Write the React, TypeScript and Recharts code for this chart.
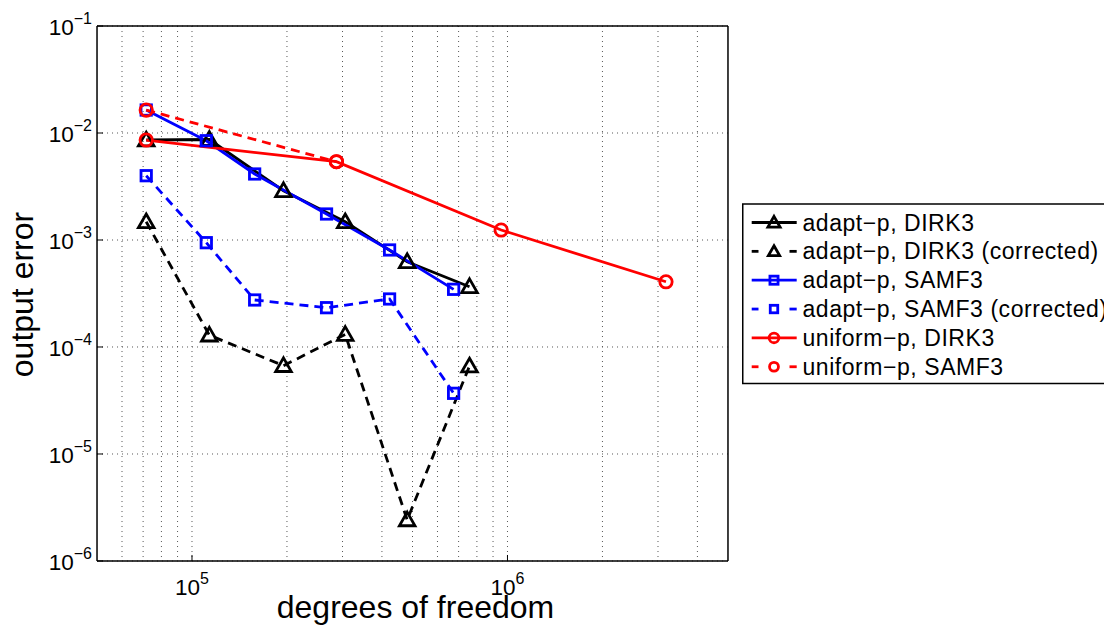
import React from 'react';
import { LineChart, Line, XAxis, YAxis, CartesianGrid, Legend } from 'recharts';

// ---------------- data ----------------
const seriesNames = [
  'adapt\u2212p, DIRK3',
  'adapt\u2212p, DIRK3 (corrected)',
  'adapt\u2212p, SAMF3',
  'adapt\u2212p, SAMF3 (corrected)',
  'uniform\u2212p, DIRK3',
  'uniform\u2212p, SAMF3',
];

const adaptDirkDof = [71600, 113500, 195000, 306000, 481000, 758000];
const adaptDirkErr = [8.6e-3, 8.7e-3, 2.89e-3, 1.48e-3, 6.27e-4, 3.66e-4];
const adaptDirkCorrErr = [1.48e-3, 1.29e-4, 6.69e-5, 1.31e-4, 2.42e-6, 6.64e-5];

const adaptSamfDof = [71600, 111000, 158000, 267000, 423000, 675000];
const adaptSamfErr = [1.64e-2, 8.47e-3, 4.14e-3, 1.75e-3, 8.07e-4, 3.46e-4];
const adaptSamfCorrErr = [3.99e-3, 9.44e-4, 2.75e-4, 2.33e-4, 2.81e-4, 3.69e-5];

const uniformDirkDof = [71600, 287000, 955000, 3180000];
const uniformDirkErr = [8.6e-3, 5.39e-3, 1.24e-3, 4.07e-4];

const uniformSamfDof = [71600, 287000];
const uniformSamfErr = [1.64e-2, 5.39e-3];

const xDomain = [5e4, 5e6];
const yDomain = [1e-6, 1e-1];
const xMajorTicks = [1e5, 1e6];
const xMinorTicks = [6e4, 7e4, 8e4, 9e4, 2e5, 3e5, 4e5, 5e5, 6e5, 7e5, 8e5, 9e5, 2e6, 3e6, 4e6];
const xGridValues = [6e4, 7e4, 8e4, 9e4, 1e5, 2e5, 3e5, 4e5, 5e5, 6e5, 7e5, 8e5, 9e5, 1e6, 2e6, 3e6, 4e6];
const yMajorTicks = [1e-6, 1e-5, 1e-4, 1e-3, 1e-2, 1e-1];
const yMinorTicks = [
  2e-6, 3e-6, 4e-6, 5e-6, 6e-6, 7e-6, 8e-6, 9e-6,
  2e-5, 3e-5, 4e-5, 5e-5, 6e-5, 7e-5, 8e-5, 9e-5,
  2e-4, 3e-4, 4e-4, 5e-4, 6e-4, 7e-4, 8e-4, 9e-4,
  2e-3, 3e-3, 4e-3, 5e-3, 6e-3, 7e-3, 8e-3, 9e-3,
  2e-2, 3e-2, 4e-2, 5e-2, 6e-2, 7e-2, 8e-2, 9e-2,
];
const xLabel = 'degrees of freedom';
const yLabel = 'output error';

// ---------------- styling ----------------
const W = 1104;
const H = 633;
const FONT = "'Liberation Sans', Arial, Helvetica, sans-serif";
const THIN = 0.01; // axis thickness (must be > 0 for recharts to draw the axis)

const zip = (xs: number[], ys: number[]) => xs.map((x, i) => ({ x, y: ys[i] }));

type Kind = 'tri' | 'sq' | 'circ';
const series: { name: string; data: { x: number; y: number }[]; color: string; dashed: boolean; marker: Kind }[] = [
  { name: seriesNames[0], data: zip(adaptDirkDof, adaptDirkErr), color: '#000000', dashed: false, marker: 'tri' },
  { name: seriesNames[1], data: zip(adaptDirkDof, adaptDirkCorrErr), color: '#000000', dashed: true, marker: 'tri' },
  { name: seriesNames[2], data: zip(adaptSamfDof, adaptSamfErr), color: '#0000ff', dashed: false, marker: 'sq' },
  { name: seriesNames[3], data: zip(adaptSamfDof, adaptSamfCorrErr), color: '#0000ff', dashed: true, marker: 'sq' },
  { name: seriesNames[4], data: zip(uniformDirkDof, uniformDirkErr), color: '#ff0000', dashed: false, marker: 'circ' },
  { name: seriesNames[5], data: zip(uniformSamfDof, uniformSamfErr), color: '#ff0000', dashed: true, marker: 'circ' },
];

const Marker = ({ kind, cx, cy, color, s = 1, sw = 2.8 }: { kind: Kind; cx: number; cy: number; color: string; s?: number; sw?: number }) => {
  const common = { fill: 'none', stroke: color, strokeWidth: sw, strokeDasharray: 'none' } as any;
  if (kind === 'tri') {
    const h = 7.8 * s;
    return <path d={`M${cx},${cy - h}L${cx + h},${cy + 0.75 * h}L${cx - h},${cy + 0.75 * h}Z`} {...common} strokeLinejoin="miter" />;
  }
  if (kind === 'sq') {
    const a = 5.2 * s;
    return <rect x={cx - a} y={cy - a} width={2 * a} height={2 * a} {...common} />;
  }
  return <circle cx={cx} cy={cy} r={6.2 * s} {...common} />;
};

const fmtExp = (v: number) => {
  const e = Math.round(Math.log10(v));
  return e < 0 ? `\u2212${-e}` : `${e}`;
};

const XTick = (props: any) => {
  const { x, y, payload } = props;
  return (
    <text x={x} y={y} textAnchor="middle" fontFamily={FONT} fontSize={22.5} fill="#000">
      <tspan>10</tspan>
      <tspan dy={-11} fontSize={16}>{fmtExp(payload.value)}</tspan>
    </text>
  );
};

const YTick = (props: any) => {
  const { x, y, payload } = props;
  return (
    <text x={x} y={y + 9} textAnchor="end" fontFamily={FONT} fontSize={22.5} fill="#000">
      <tspan>10</tspan>
      <tspan dy={-11} fontSize={16}>{fmtExp(payload.value)}</tspan>
    </text>
  );
};

const XAxisLabel = (props: any) => {
  const vb = props.viewBox || { x: 97, y: 561, width: 631, height: 0 };
  return (
    <text x={vb.x + vb.width / 2 + 3} y={vb.y + 57} textAnchor="middle" fontFamily={FONT} fontSize={32} fill="#000">
      {xLabel}
    </text>
  );
};

const YAxisLabel = (props: any) => {
  const vb = props.viewBox || { x: 97, y: 26, width: 0, height: 535 };
  const cx = vb.x + vb.width - 64;
  const cy = vb.y + vb.height / 2 + 1;
  return (
    <text x={cx} y={cy} transform={`rotate(-90 ${cx} ${cy})`} textAnchor="middle" fontFamily={FONT} fontSize={32} fill="#000">
      {yLabel}
    </text>
  );
};

const LegendBox = () => {
  const rowY = (i: number) => 19.5 + i * 28.85;
  return (
    <svg width={380} height={184} style={{ display: 'block', overflow: 'visible' }}>
      <rect x={0.75} y={1} width={420} height={179.5} fill="#fff" stroke="#000" strokeWidth={1.5} />
      {series.map((s, i) => {
        const y = rowY(i);
        return (
          <g key={s.name}>
            {s.dashed ? (
              <>
                <line x1={9.7} x2={16.5} y1={y} y2={y} stroke={s.color} strokeWidth={2.8} />
                <line x1={47.5} x2={54.7} y1={y} y2={y} stroke={s.color} strokeWidth={2.8} />
              </>
            ) : (
              <line x1={9.7} x2={54.7} y1={y} y2={y} stroke={s.color} strokeWidth={2.8} />
            )}
            <Marker kind={s.marker} cx={32} cy={y} color={s.color} s={s.dashed ? 0.72 : 0.78} />
            <text x={60.5} y={y + 8} fontFamily={FONT} fontSize={23} letterSpacing={0.55} fill="#000">
              {s.name}
            </text>
          </g>
        );
      })}
    </svg>
  );
};

const logAxisCommon = { type: 'number' as const, scale: 'log' as const, allowDataOverflow: true, interval: 0 as const };
const tickLineStyle = { stroke: '#000', strokeWidth: 1 };
const axisLineStyle = { stroke: '#000', strokeWidth: 1.5 };

export default function App() {
  return (
    <div style={{ position: 'fixed', left: 0, top: 0, width: W, height: H, overflow: 'hidden', background: '#fff' }}>
      <LineChart width={W} height={H} margin={{ top: 26, right: 376, bottom: 72, left: 97 }}>
        <XAxis {...logAxisCommon} dataKey="x" domain={xDomain} ticks={xMajorTicks} orientation="bottom" height={THIN}
          tick={<XTick />} tickSize={-6} tickMargin={40} axisLine={axisLineStyle}
          tickLine={tickLineStyle} label={{ content: XAxisLabel } as any} />
        <XAxis xAxisId="xminb" {...logAxisCommon} dataKey="x" domain={xDomain} ticks={xMinorTicks} orientation="bottom" height={THIN}
          tick={false} tickSize={-3} axisLine={false} tickLine={tickLineStyle} />
        <XAxis xAxisId="xmajt" {...logAxisCommon} dataKey="x" domain={xDomain} ticks={xMajorTicks} orientation="top" height={THIN}
          tick={false} tickSize={-6} axisLine={axisLineStyle} tickLine={tickLineStyle} />
        <XAxis xAxisId="xmint" {...logAxisCommon} dataKey="x" domain={xDomain} ticks={xMinorTicks} orientation="top" height={THIN}
          tick={false} tickSize={-3} axisLine={false} tickLine={tickLineStyle} />

        <YAxis {...logAxisCommon} domain={yDomain} ticks={yMajorTicks} orientation="left" width={THIN}
          tick={<YTick />} tickSize={-6} tickMargin={11} axisLine={axisLineStyle}
          tickLine={tickLineStyle} label={{ content: YAxisLabel } as any} />
        <YAxis yAxisId="yminl" {...logAxisCommon} domain={yDomain} ticks={yMinorTicks} orientation="left" width={THIN}
          tick={false} tickSize={-3} axisLine={false} tickLine={tickLineStyle} />
        <YAxis yAxisId="ymajr" {...logAxisCommon} domain={yDomain} ticks={yMajorTicks} orientation="right" width={THIN}
          tick={false} tickSize={-6} axisLine={axisLineStyle} tickLine={tickLineStyle} />
        <YAxis yAxisId="yminr" {...logAxisCommon} domain={yDomain} ticks={yMinorTicks} orientation="right" width={THIN}
          tick={false} tickSize={-3} axisLine={false} tickLine={tickLineStyle} />

        <CartesianGrid horizontal={false} verticalValues={xGridValues} stroke="#555" strokeWidth={1} strokeDasharray="1 4" />
        <CartesianGrid vertical={false} horizontalValues={yMajorTicks} stroke="#555" strokeWidth={1} strokeDasharray="1 4" />

        {series.map((s, si) => (
          <Line
            key={s.name}
            name={s.name}
            data={s.data}
            dataKey="y"
            type="linear"
            stroke={s.color}
            strokeWidth={2.8}
            strokeDasharray={s.dashed ? '9 6' : undefined}
            isAnimationActive={false}
            activeDot={false}
            dot={(p: any) => (
              <Marker key={`m-${si}-${p.index}`} kind={s.marker} cx={p.cx} cy={p.cy} color={s.color} />
            )}
          />
        ))}

        <Legend layout="vertical" align="center" verticalAlign="middle"
          wrapperStyle={{ left: 742, top: 203, width: 380, height: 184 }}
          content={() => <LegendBox />} />
      </LineChart>
    </div>
  );
}
